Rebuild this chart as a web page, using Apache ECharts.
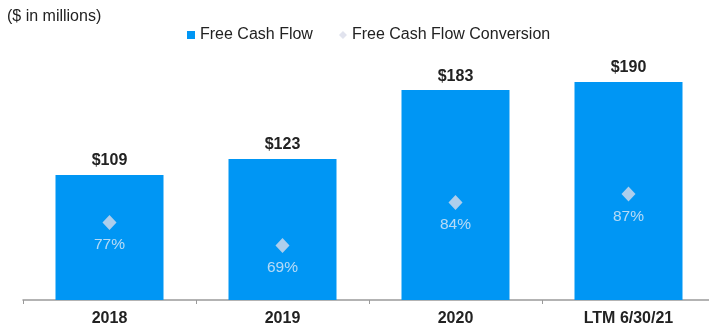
<!DOCTYPE html>
<html>
<head>
<meta charset="utf-8">
<script src="https://cdn.jsdelivr.net/npm/echarts@6/dist/echarts.min.js"></script>
<style>
html,body{margin:0;padding:0;background:#fff;overflow:hidden;}
#c{width:715px;height:331px;}
</style>
</head>
<body>
<div id="c"></div>
<script>
const categories = ['2018', '2019', '2020', 'LTM 6/30/21'];
const freeCashFlow = [109, 123, 183, 190];
const fcfConversion = [77, 69, 84, 87];

const FONT = 'Liberation Sans, Arial, Helvetica, sans-serif';
const chart = echarts.init(document.getElementById('c'), null, {renderer: 'canvas'});
chart.setOption({
  backgroundColor: '#ffffff',
  animation: false,
  title: {
    text: '($ in millions)',
    left: 2, top: 4,
    textStyle: {fontFamily: FONT, fontSize: 16, fontWeight: 'normal', color: '#222'}
  },
  legend: {
    left: 182, top: 22,
    itemWidth: 8, itemHeight: 8, itemGap: 26,
    textStyle: {fontFamily: FONT, fontSize: 16, color: '#222'},
    data: [
      {name: 'Free Cash Flow', icon: 'rect'},
      {name: 'Free Cash Flow Conversion', icon: 'diamond'}
    ]
  },
  grid: {left: 23, right: 0, top: 70.6, bottom: 31, containLabel: false},
  xAxis: {
    type: 'category',
    data: categories,
    axisLine: {lineStyle: {color: '#9a9a9a', width: 1.5}},
    axisTick: {show: true, length: 4, lineStyle: {color: '#9a9a9a'}},
    axisLabel: {fontFamily: FONT, fontSize: 16, fontWeight: 'bold', color: '#222', margin: 11}
  },
  yAxis: [
    {type: 'value', min: 0, max: 200, show: false, splitLine: {show: false}},
    {type: 'value', min: 50, max: 130, show: false, splitLine: {show: false}}
  ],
  series: [
    {
      name: 'Free Cash Flow',
      type: 'bar',
      data: freeCashFlow,
      barWidth: 108,
      itemStyle: {color: '#0096f4'},
      label: {
        show: true, position: 'top', distance: 6,
        formatter: p => '$' + p.value,
        fontFamily: FONT, fontSize: 16, fontWeight: 'bold', color: '#222'
      }
    },
    {
      name: 'Free Cash Flow Conversion',
      type: 'scatter',
      yAxisIndex: 1,
      data: fcfConversion,
      symbol: 'diamond',
      symbolSize: [14, 15],
      itemStyle: {color: '#dadcea'},
      label: {
        show: true, position: 'bottom', distance: 7,
        formatter: p => p.value + '%',
        fontFamily: FONT, fontSize: 15.5, color: '#e2ebf6'
      },
      z: 5
    }
  ]
});
</script>
</body>
</html>
